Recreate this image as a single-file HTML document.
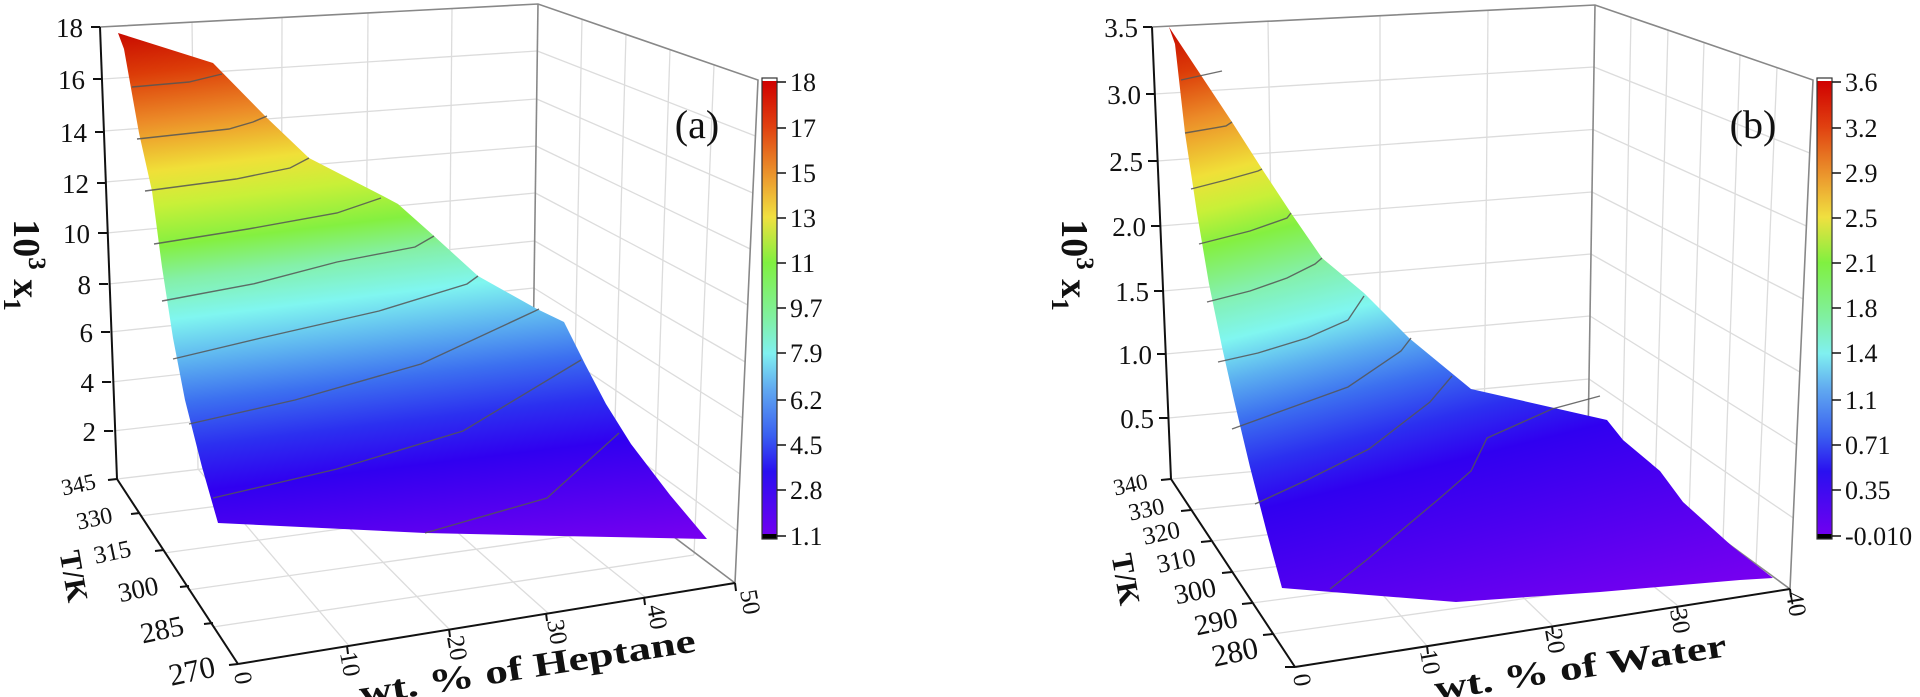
<!DOCTYPE html>
<html><head><meta charset="utf-8"><style>
html,body{margin:0;padding:0;background:#fff;}
svg{display:block;}
text{font-family:"Liberation Serif",serif;fill:#111;}
</style></head><body>
<svg width="1920" height="697" viewBox="0 0 1920 697" xmlns="http://www.w3.org/2000/svg">
<defs>
<linearGradient id="ga" gradientUnits="userSpaceOnUse" x1="0" y1="0" x2="82.8" y2="690">
<stop offset="0.067" stop-color="#c80a00"/><stop offset="0.129" stop-color="#dc3c08"/><stop offset="0.2" stop-color="#ec8c28"/><stop offset="0.271" stop-color="#f0e038"/><stop offset="0.321" stop-color="#c8f038"/><stop offset="0.379" stop-color="#84f040"/><stop offset="0.429" stop-color="#84f0a8"/><stop offset="0.486" stop-color="#80f6f0"/><stop offset="0.55" stop-color="#5cb0f0"/><stop offset="0.607" stop-color="#3c70f0"/><stop offset="0.671" stop-color="#2c30f0"/><stop offset="0.736" stop-color="#3000f0"/><stop offset="0.891" stop-color="#7800f0"/>
</linearGradient>
<linearGradient id="gb" gradientUnits="userSpaceOnUse" x1="1150" y1="0" x2="1338" y2="753">
<stop offset="0.04" stop-color="#c80a00"/><stop offset="0.1" stop-color="#dc3c08"/><stop offset="0.1625" stop-color="#ec8c28"/><stop offset="0.236" stop-color="#f0e038"/><stop offset="0.281" stop-color="#c8f038"/><stop offset="0.326" stop-color="#84f040"/><stop offset="0.3875" stop-color="#84f0a8"/><stop offset="0.449" stop-color="#80f6f0"/><stop offset="0.5" stop-color="#5cb0f0"/><stop offset="0.5525" stop-color="#3c70f0"/><stop offset="0.6125" stop-color="#2c30f0"/><stop offset="0.671" stop-color="#3000f0"/><stop offset="0.9175" stop-color="#7800f0"/>
</linearGradient>
<linearGradient id="gc" x1="0" y1="0" x2="0" y2="1">
<stop offset="0" stop-color="#d00000"/><stop offset="0.1" stop-color="#e04010"/><stop offset="0.22" stop-color="#eca030"/><stop offset="0.3" stop-color="#f0e040"/><stop offset="0.4" stop-color="#80f040"/><stop offset="0.52" stop-color="#80f0a0"/><stop offset="0.6" stop-color="#80f0f0"/><stop offset="0.68" stop-color="#60a8f0"/><stop offset="0.78" stop-color="#3a60f0"/><stop offset="0.86" stop-color="#2a10f0"/><stop offset="1" stop-color="#7000f0"/>
</linearGradient>
</defs>

<!-- ============ PANEL A ============ -->
<g stroke="#dcdcdc" stroke-width="1.3" fill="none">
<line x1="102.4" y1="79" x2="537.3" y2="51"/><line x1="103.9" y1="131" x2="536.7" y2="99"/><line x1="105.3" y1="182" x2="536" y2="146"/><line x1="106.8" y1="233" x2="535.3" y2="193"/><line x1="108.2" y1="284" x2="534.7" y2="241"/><line x1="109.7" y1="332" x2="534" y2="288"/><line x1="111.1" y1="382" x2="533.3" y2="335"/><line x1="112.6" y1="431" x2="532.7" y2="383"/>
<line x1="192" y1="22" x2="198" y2="469"/><line x1="282" y1="18" x2="281" y2="459"/><line x1="368" y1="13" x2="365" y2="450"/><line x1="452" y1="9" x2="448" y2="440"/>
<line x1="537.3" y1="51" x2="755.4" y2="136"/><line x1="536.7" y1="99" x2="752.9" y2="193"/><line x1="536" y1="146" x2="750.3" y2="249"/><line x1="535.3" y1="193" x2="747.8" y2="305"/><line x1="534.7" y1="241" x2="745.2" y2="362"/><line x1="534" y1="288" x2="742.7" y2="418"/><line x1="533.3" y1="335" x2="740.1" y2="474"/><line x1="532.7" y1="383" x2="737.6" y2="531"/>
<line x1="582" y1="19" x2="573" y2="461"/><line x1="626" y1="34" x2="613" y2="492"/><line x1="670" y1="50" x2="654" y2="524"/><line x1="714" y1="65" x2="694" y2="555"/>
<line x1="198" y1="469" x2="350" y2="647"/><line x1="281" y1="459" x2="450" y2="630"/><line x1="365" y1="450" x2="548" y2="613"/><line x1="448" y1="440" x2="645" y2="597"/>
<line x1="140" y1="516" x2="573" y2="461"/><line x1="164" y1="553" x2="613" y2="492"/><line x1="188" y1="590" x2="654" y2="524"/><line x1="213" y1="627" x2="694" y2="555"/>
<line x1="117" y1="479" x2="532" y2="430"/>
</g>
<g stroke="#888" stroke-width="1.6" fill="none">
<polyline points="100,27 538,4 758,80 735,583"/>
<line x1="538" y1="4" x2="532" y2="430"/>
<line x1="532" y1="430" x2="735" y2="583"/>
</g>

<polygon fill="url(#ga)" points="118,33 213,63 267,118 309,158 383,196 398,204 434,236 478,276 537,309 564,322 585,364 606,404 631,444 670,495 707,539 560,536 425,533 218,523 202,467 185,400 173,338 162,267 152,191 139,133 124,49"/>
<g stroke="#555" stroke-width="1.4" fill="none" opacity="0.85">
<polyline points="132,87 189,82 222,74"/>
<polyline points="137,139 229,129 253,122 267,116"/>
<polyline points="145,191 236,179 290,168 309,158"/>
<polyline points="154,244 248,229 337,213 381,198"/>
<polyline points="162,301 253,284 337,262 415,247 434,236"/>
<polyline points="173,359 261,338 379,311 467,284 478,276"/>
<polyline points="189,424 295,400 421,364 535,311 539,309"/>
<polyline points="213,498 337,469 463,431 581,360"/>
<polyline points="425,533 547,498 619,433"/>
</g>

<g stroke="#111" stroke-width="2" fill="none">
<line x1="100" y1="27" x2="117" y2="479"/>
<line x1="117" y1="479" x2="238" y2="664"/>
<line x1="238" y1="664" x2="735" y2="583"/>
<line x1="91" y1="27" x2="100" y2="27"/><line x1="93" y1="79" x2="102" y2="79"/><line x1="95" y1="132" x2="104" y2="132"/><line x1="97" y1="183" x2="106" y2="183"/><line x1="98" y1="233" x2="107" y2="233"/><line x1="99" y1="284" x2="108" y2="284"/><line x1="101" y1="332" x2="110" y2="332"/><line x1="102" y1="382" x2="111" y2="382"/><line x1="104" y1="431" x2="113" y2="431"/>
<line x1="108" y1="480" x2="117" y2="479"/><line x1="131" y1="514" x2="140" y2="513"/><line x1="155" y1="551" x2="164" y2="550"/><line x1="180" y1="587" x2="189" y2="586"/><line x1="204" y1="624" x2="213" y2="623"/><line x1="229" y1="665" x2="238" y2="664"/>
<line x1="347" y1="646" x2="348" y2="654"/><line x1="449" y1="629" x2="450" y2="637"/><line x1="546" y1="613" x2="547" y2="621"/><line x1="644" y1="597" x2="645" y2="605"/><line x1="735" y1="583" x2="736" y2="591"/>
</g>
<g font-size="27" text-anchor="end">
<text x="83" y="37">18</text><text x="85" y="89">16</text><text x="87" y="142">14</text><text x="89" y="193">12</text><text x="90" y="243">10</text><text x="91" y="294">8</text><text x="93" y="342">6</text><text x="94" y="392">4</text><text x="96" y="441">2</text>
</g>
<g text-anchor="middle">
<text transform="translate(80,492) rotate(-12)" font-size="23">345</text>
<text transform="translate(96,526) rotate(-12)" font-size="24">330</text>
<text transform="translate(114,560) rotate(-12)" font-size="25">315</text>
<text transform="translate(140,598) rotate(-12)" font-size="27">300</text>
<text transform="translate(164,639) rotate(-12)" font-size="29">285</text>
<text transform="translate(194,681) rotate(-12)" font-size="31">270</text>
</g>
<g font-size="25" text-anchor="middle">
<text transform="translate(243,678) rotate(80)" dy="8">0</text>
<text transform="translate(350,664) rotate(80)" dy="8">10</text>
<text transform="translate(457,648) rotate(80)" dy="8">20</text>
<text transform="translate(557,632) rotate(80)" dy="8">30</text>
<text transform="translate(657,617) rotate(80)" dy="8">40</text>
<text transform="translate(750,602) rotate(80)" dy="8">50</text>
</g>
<text transform="translate(64,578) rotate(80)" font-size="30" font-weight="bold" text-anchor="middle">T/K</text>
<text transform="translate(529,678) rotate(-9)" font-size="34" font-weight="bold" text-anchor="middle" textLength="340" lengthAdjust="spacingAndGlyphs">wt. % of Heptane</text>
<text transform="translate(14,265) rotate(90)" font-size="38" font-weight="bold" text-anchor="middle">10<tspan dy="-15" font-size="25">3</tspan><tspan dy="15"> x</tspan><tspan dy="10" font-size="25">1</tspan></text>
<text x="697" y="138" font-size="40" text-anchor="middle">(a)</text>

<rect x="762" y="79" width="15" height="3" fill="#fff"/>
<rect x="762" y="81" width="15" height="454" fill="url(#gc)"/>
<rect x="762" y="534" width="15" height="5" fill="#000"/>
<rect x="762" y="78" width="15" height="461" fill="none" stroke="#333" stroke-width="1.2"/>
<g stroke="#111" stroke-width="1.5">
<line x1="777" y1="82" x2="786" y2="82"/><line x1="777" y1="128" x2="786" y2="128"/><line x1="777" y1="173" x2="786" y2="173"/><line x1="777" y1="218" x2="786" y2="218"/><line x1="777" y1="263" x2="786" y2="263"/><line x1="777" y1="308" x2="786" y2="308"/><line x1="777" y1="353" x2="786" y2="353"/><line x1="777" y1="400" x2="786" y2="400"/><line x1="777" y1="445" x2="786" y2="445"/><line x1="777" y1="490" x2="786" y2="490"/><line x1="777" y1="536" x2="786" y2="536"/>
</g>
<g font-size="26">
<text x="790" y="91">18</text><text x="790" y="137">17</text><text x="790" y="182">15</text><text x="790" y="227">13</text><text x="790" y="272">11</text><text x="790" y="317">9.7</text><text x="790" y="362">7.9</text><text x="790" y="409">6.2</text><text x="790" y="454">4.5</text><text x="790" y="499">2.8</text><text x="790" y="545">1.1</text>
</g>

<!-- ============ PANEL B ============ -->
<g stroke="#dcdcdc" stroke-width="1.3" fill="none">
<line x1="1154.7" y1="94" x2="1594" y2="67"/><line x1="1157.4" y1="161" x2="1593" y2="129.5"/><line x1="1160.1" y1="226" x2="1592" y2="192"/><line x1="1162.9" y1="291" x2="1591" y2="254"/><line x1="1165.6" y1="354" x2="1590" y2="316"/><line x1="1168.3" y1="418" x2="1589" y2="379"/>
<line x1="1268" y1="22" x2="1275" y2="470"/><line x1="1380" y1="16" x2="1380" y2="460"/><line x1="1488" y1="11" x2="1484" y2="451"/>
<line x1="1594" y1="67" x2="1809.7" y2="153"/><line x1="1593" y1="129.5" x2="1806.4" y2="226"/><line x1="1592" y1="192" x2="1803.1" y2="299"/><line x1="1591" y1="254" x2="1799.9" y2="372"/><line x1="1590" y1="316" x2="1796.6" y2="445"/><line x1="1589" y1="379" x2="1793.3" y2="518"/>
<line x1="1631" y1="17.5" x2="1622" y2="466"/><line x1="1668" y1="30" x2="1655" y2="491"/><line x1="1704" y1="42.5" x2="1689" y2="516"/><line x1="1740" y1="55" x2="1723" y2="541"/><line x1="1777" y1="67.5" x2="1756" y2="566"/>
<line x1="1275" y1="470" x2="1427" y2="646"/><line x1="1380" y1="460" x2="1552" y2="625"/><line x1="1484" y1="451" x2="1677" y2="605"/>
<line x1="1191" y1="510" x2="1622" y2="466"/><line x1="1212" y1="541" x2="1655" y2="491"/><line x1="1232" y1="572" x2="1689" y2="516"/><line x1="1252" y1="603" x2="1723" y2="541"/><line x1="1273" y1="634" x2="1756" y2="566"/>
<line x1="1171" y1="479" x2="1588" y2="441"/>
</g>
<g stroke="#888" stroke-width="1.6" fill="none">
<polyline points="1152,27 1595,5 1813,80 1790,589"/>
<line x1="1595" y1="5" x2="1588" y2="441"/>
<line x1="1588" y1="441" x2="1790" y2="589"/>
</g>
<polygon fill="url(#gb)" points="1169,27 1232,122 1262,169 1291,213 1322,258 1364,293 1409,338 1471,389 1607,420 1623,440 1660,471 1683,502 1733,547 1773,578 1740,580 1600,592 1456,602 1282,588 1267,533 1250,467 1234,400 1222,347 1209,284 1197,213 1185,133 1175,44"/>
<g stroke="#555" stroke-width="1.4" fill="none" opacity="0.85">
<polyline points="1181,80 1222,71"/>
<polyline points="1185,133 1226,126 1232,122"/>
<polyline points="1191,189 1226,180 1258,171 1262,169"/>
<polyline points="1199,244 1250,231 1287,218 1291,213"/>
<polyline points="1207,302 1250,291 1287,278 1315,264 1322,258"/>
<polyline points="1218,362 1258,353 1307,338 1348,320 1364,296"/>
<polyline points="1232,429 1287,409 1348,387 1401,351 1411,338"/>
<polyline points="1255,504 1307,480 1369,449 1430,402 1452,376"/>
<polyline points="1330,589 1369,558 1409,524 1440,498 1471,471 1487,438 1552,409 1600,396"/>
</g>
<g stroke="#111" stroke-width="2" fill="none">
<line x1="1152" y1="27" x2="1171" y2="479"/>
<line x1="1171" y1="479" x2="1295" y2="667"/>
<line x1="1295" y1="667" x2="1790" y2="589"/>
<line x1="1143" y1="27" x2="1152" y2="27"/><line x1="1146" y1="94" x2="1155" y2="94"/><line x1="1148" y1="161" x2="1157" y2="161"/><line x1="1151" y1="226" x2="1160" y2="226"/><line x1="1154" y1="291" x2="1163" y2="291"/><line x1="1157" y1="354" x2="1166" y2="354"/><line x1="1159" y1="418" x2="1168" y2="418"/>
<line x1="1161" y1="480" x2="1171" y2="479"/><line x1="1181" y1="511" x2="1191" y2="510"/><line x1="1201" y1="542" x2="1211" y2="541"/><line x1="1222" y1="573" x2="1232" y2="572"/><line x1="1242" y1="604" x2="1252" y2="603"/><line x1="1263" y1="635" x2="1273" y2="634"/><line x1="1285" y1="667" x2="1295" y2="667"/>
<line x1="1427" y1="646" x2="1428" y2="654"/><line x1="1552" y1="626" x2="1553" y2="634"/><line x1="1677" y1="606" x2="1678" y2="614"/><line x1="1790" y1="589" x2="1791" y2="597"/>
</g>
<g font-size="27" text-anchor="end">
<text x="1138" y="37">3.5</text><text x="1141" y="104">3.0</text><text x="1143" y="171">2.5</text><text x="1146" y="236">2.0</text><text x="1149" y="301">1.5</text><text x="1152" y="364">1.0</text><text x="1154" y="428">0.5</text>
</g>
<g text-anchor="middle">
<text transform="translate(1132,492) rotate(-12)" font-size="23">340</text>
<text transform="translate(1148,517) rotate(-12)" font-size="24">330</text>
<text transform="translate(1163,541) rotate(-12)" font-size="25">320</text>
<text transform="translate(1178,569) rotate(-12)" font-size="26">310</text>
<text transform="translate(1197,600) rotate(-12)" font-size="28">300</text>
<text transform="translate(1218,631) rotate(-12)" font-size="29">290</text>
<text transform="translate(1237,662) rotate(-12)" font-size="31">280</text>
</g>
<g font-size="25" text-anchor="middle">
<text transform="translate(1302,680) rotate(80)" dy="8">0</text>
<text transform="translate(1430,662) rotate(80)" dy="8">10</text>
<text transform="translate(1555,641) rotate(80)" dy="8">20</text>
<text transform="translate(1680,621) rotate(80)" dy="8">30</text>
<text transform="translate(1796,604) rotate(80)" dy="8">40</text>
</g>
<text transform="translate(1116,581) rotate(80)" font-size="30" font-weight="bold" text-anchor="middle">T/K</text>
<text transform="translate(1582,678) rotate(-8.5)" font-size="34" font-weight="bold" text-anchor="middle" textLength="295" lengthAdjust="spacingAndGlyphs">wt. % of Water</text>
<text transform="translate(1062,265) rotate(90)" font-size="38" font-weight="bold" text-anchor="middle">10<tspan dy="-15" font-size="25">3</tspan><tspan dy="15"> x</tspan><tspan dy="10" font-size="25">1</tspan></text>
<text x="1753" y="138" font-size="40" text-anchor="middle">(b)</text>

<rect x="1817" y="79" width="15" height="3" fill="#fff"/>
<rect x="1817" y="81" width="15" height="454" fill="url(#gc)"/>
<rect x="1817" y="534" width="15" height="5" fill="#000"/>
<rect x="1817" y="78" width="15" height="461" fill="none" stroke="#333" stroke-width="1.2"/>
<g stroke="#111" stroke-width="1.5">
<line x1="1832" y1="82" x2="1841" y2="82"/><line x1="1832" y1="128" x2="1841" y2="128"/><line x1="1832" y1="173" x2="1841" y2="173"/><line x1="1832" y1="218" x2="1841" y2="218"/><line x1="1832" y1="263" x2="1841" y2="263"/><line x1="1832" y1="308" x2="1841" y2="308"/><line x1="1832" y1="353" x2="1841" y2="353"/><line x1="1832" y1="400" x2="1841" y2="400"/><line x1="1832" y1="445" x2="1841" y2="445"/><line x1="1832" y1="490" x2="1841" y2="490"/><line x1="1832" y1="536" x2="1841" y2="536"/>
</g>
<g font-size="26">
<text x="1845" y="91">3.6</text><text x="1845" y="137">3.2</text><text x="1845" y="182">2.9</text><text x="1845" y="227">2.5</text><text x="1845" y="272">2.1</text><text x="1845" y="317">1.8</text><text x="1845" y="362">1.4</text><text x="1845" y="409">1.1</text><text x="1845" y="454">0.71</text><text x="1845" y="499">0.35</text><text x="1845" y="545">-0.010</text>
</g>
</svg>
</body></html>
